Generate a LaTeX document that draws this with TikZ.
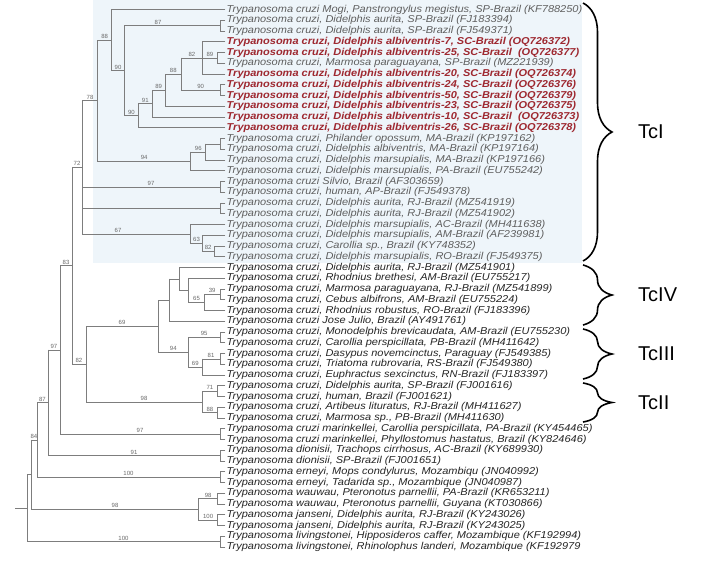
\documentclass[tikz,border=0pt]{standalone}
\usepackage{fontspec}
\setmainfont{Liberation Sans}
\newfontfamily\leaffont[FakeStretch=1.1]{Liberation Sans}
\usetikzlibrary{decorations.pathreplacing}
\definecolor{redtxt}{RGB}{158,40,48}
\definecolor{boxbg}{RGB}{238,245,250}
\definecolor{linegray}{RGB}{125,125,125}
\definecolor{graytxt}{RGB}{95,95,95}
\definecolor{bstxt}{RGB}{105,105,105}
\newcommand{\clade}[4]{\draw[br] (#1 |- #2) -- (#1 |- #3);\foreach \c in {#4}{\draw[br] (#1 |- \c) -- (\c);}}
\begin{document}
\begin{tikzpicture}[x=1pt,y=-1pt,
  br/.style={draw=linegray,line width=0.7pt,line cap=rect},
  leaf/.style={anchor=west,inner sep=1.5pt,font=\leaffont\fontsize{10}{11}\selectfont\itshape,text=black!85},
  leafg/.style={leaf,text=graytxt},
  leafr/.style={leaf,text=redtxt,font=\leaffont\fontsize{10}{11}\selectfont\bfseries\itshape},
  bs/.style={font=\fontsize{6}{7}\selectfont,text=bstxt,inner sep=0.3pt,anchor=south},
  bracestyle/.style={decorate,decoration={brace,amplitude=29pt},line width=1.6pt},
  cladelab/.style={anchor=west,font=\fontsize{20}{22}\selectfont,inner sep=0pt}
]
\fill[white] (0,0) rectangle (714,560);
\useasboundingbox (0,0) rectangle (714,560);
\fill[boxbg] (93,0) rectangle (582,263);

% leaves
\node[leafg] (l1) at (225,9.5) {Trypanosoma cruzi Mogi, Panstrongylus megistus, SP-Brazil (KF788250)};
\node[leafg] (l2) at (225,20.25) {Trypanosoma cruzi, Didelphis aurita, SP-Brazil (FJ183394)};
\node[leafg] (l3) at (225,31) {Trypanosoma cruzi, Didelphis aurita, SP-Brazil (FJ549371)};
\node[leafr] (l4) at (225,41.75) {Trypanosoma cruzi, Didelphis albiventris-7, SC-Brazil (OQ726372)};
\node[leafr] (l5) at (225,52.5) {Trypanosoma cruzi, Didelphis albiventris-25, SC-Brazil \ (OQ726377)};
\node[leafg] (l6) at (225,63.25) {Trypanosoma cruzi, Marmosa paraguayana, SP-Brazil (MZ221939)};
\node[leafr] (l7) at (225,74) {Trypanosoma cruzi, Didelphis albiventris-20, SC-Brazil (OQ726374)};
\node[leafr] (l8) at (225,84.75) {Trypanosoma cruzi, Didelphis albiventris-24, SC-Brazil (OQ726376)};
\node[leafr] (l9) at (225,95.5) {Trypanosoma cruzi, Didelphis albiventris-50, SC-Brazil (OQ726379)};
\node[leafr] (l10) at (225,106.25) {Trypanosoma cruzi, Didelphis albiventris-23, SC-Brazil (OQ726375)};
\node[leafr] (l11) at (225,117) {Trypanosoma cruzi, Didelphis albiventris-10, SC-Brazil \ (OQ726373)};
\node[leafr] (l12) at (225,127.75) {Trypanosoma cruzi, Didelphis albiventris-26, SC-Brazil (OQ726378)};
\node[leafg] (l13) at (225,138.5) {Trypanosoma cruzi, Philander opossum, MA-Brazil (KP197162)};
\node[leafg] (l14) at (225,149.25) {Trypanosoma cruzi, Didelphis albiventris, MA-Brazil (KP197164)};
\node[leafg] (l15) at (225,160) {Trypanosoma cruzi, Didelphis marsupialis, MA-Brazil (KP197166)};
\node[leafg] (l16) at (225,170.75) {Trypanosoma cruzi, Didelphis marsupialis, PA-Brazil (EU755242)};
\node[leafg] (l17) at (225,181.5) {Trypanosoma cruzi Silvio, Brazil (AF303659)};
\node[leafg] (l18) at (225,192.25) {Trypanosoma cruzi, human, AP-Brazil (FJ549378)};
\node[leafg] (l19) at (225,203) {Trypanosoma cruzi, Didelphis aurita, RJ-Brazil (MZ541919)};
\node[leafg] (l20) at (225,213.75) {Trypanosoma cruzi, Didelphis aurita, RJ-Brazil (MZ541902)};
\node[leafg] (l21) at (225,224.5) {Trypanosoma cruzi, Didelphis marsupialis, AC-Brazil (MH411638)};
\node[leafg] (l22) at (225,235.25) {Trypanosoma cruzi, Didelphis marsupialis, AM-Brazil (AF239981)};
\node[leafg] (l23) at (225,246) {Trypanosoma cruzi, Carollia sp., Brazil (KY748352)};
\node[leafg] (l24) at (225,256.75) {Trypanosoma cruzi, Didelphis marsupialis, RO-Brazil (FJ549375)};
\node[leaf] (l25) at (225,267.5) {Trypanosoma cruzi, Didelphis aurita, RJ-Brazil (MZ541901)};
\node[leaf] (l26) at (225,278.25) {Trypanosoma cruzi, Rhodnius brethesi, AM-Brazil (EU755217)};
\node[leaf] (l27) at (225,289) {Trypanosoma cruzi, Marmosa paraguayana, RJ-Brazil (MZ541899)};
\node[leaf] (l28) at (225,299.75) {Trypanosoma cruzi, Cebus albifrons, AM-Brazil (EU755224)};
\node[leaf] (l29) at (225,310.5) {Trypanosoma cruzi, Rhodnius robustus, RO-Brazil (FJ183396)};
\node[leaf] (l30) at (225,321.25) {Trypanosoma cruzi Jose Julio, Brazil (AY491761)};
\node[leaf] (l31) at (225,332) {Trypanosoma cruzi, Monodelphis brevicaudata, AM-Brazil (EU755230)};
\node[leaf] (l32) at (225,342.75) {Trypanosoma cruzi, Carollia perspicillata, PB-Brazil (MH411642)};
\node[leaf] (l33) at (225,353.5) {Trypanosoma cruzi, Dasypus novemcinctus, Paraguay (FJ549385)};
\node[leaf] (l34) at (225,364.25) {Trypanosoma cruzi, Triatoma rubrovaria, RS-Brazil (FJ549380)};
\node[leaf] (l35) at (225,375) {Trypanosoma cruzi, Euphractus sexcinctus, RN-Brazil (FJ183397)};
\node[leaf] (l36) at (225,385.75) {Trypanosoma cruzi, Didelphis aurita, SP-Brazil (FJ001616)};
\node[leaf] (l37) at (225,396.5) {Trypanosoma cruzi, human, Brazil (FJ001621)};
\node[leaf] (l38) at (225,407.25) {Trypanosoma cruzi, Artibeus lituratus, RJ-Brazil (MH411627)};
\node[leaf] (l39) at (225,418) {Trypanosoma cruzi, Marmosa sp., PB-Brazil (MH411630)};
\node[leaf] (l40) at (225,428.75) {Trypanosoma cruzi marinkellei, Carollia perspicillata, PA-Brazil (KY454465)};
\node[leaf] (l41) at (225,439.5) {Trypanosoma cruzi marinkellei, Phyllostomus hastatus, Brazil (KY824646)};
\node[leaf] (l42) at (225,450.25) {Trypanosoma dionisii, Trachops cirrhosus, AC-Brazil (KY689930)};
\node[leaf] (l43) at (225,461) {Trypanosoma dionisii, SP-Brazil (FJ001651)};
\node[leaf] (l44) at (225,471.75) {Trypanosoma erneyi, Mops condylurus, Mozambiqu (JN040992)};
\node[leaf] (l45) at (225,482.5) {Trypanosoma erneyi, Tadarida sp., Mozambique (JN040987)};
\node[leaf] (l46) at (225,493.25) {Trypanosoma wauwau, Pteronotus parnellii, PA-Brazil (KR653211)};
\node[leaf] (l47) at (225,504) {Trypanosoma wauwau, Pteronotus parnellii, Guyana (KT030866)};
\node[leaf] (l48) at (225,514.75) {Trypanosoma janseni, Didelphis aurita, RJ-Brazil (KY243026)};
\node[leaf] (l49) at (225,525.5) {Trypanosoma janseni, Didelphis aurita, RJ-Brazil (KY243025)};
\node[leaf] (l50) at (225,536.25) {Trypanosoma livingstonei, Hipposideros caffer, Mozambique (KF192994)};
\node[leaf] (l51) at (225,547) {Trypanosoma livingstonei, Rhinolophus landeri, Mozambique (KF192979};

% internal nodes
\coordinate (A87) at (220,25.625);
\coordinate (A89a) at (217.4,57.875);
\coordinate (A82) at (202.3,57.875);
\coordinate (A90c) at (220,90.125);
\coordinate (A88b) at (181.4,74);
\coordinate (A89b) at (165.1,90.125);
\coordinate (A91) at (152.3,103.56);
\coordinate (A90b) at (138.4,115.66);
\coordinate (A90a) at (124.4,70.64);
\coordinate (A88) at (111.6,40.07);
\coordinate (AP) at (220,143.875);
\coordinate (A96) at (205.8,151.94);
\coordinate (A94) at (190.7,161.34);
\coordinate (A78) at (97.7,100.71);
\coordinate (A97) at (220,186.875);
\coordinate (P1920) at (220,208.375);
\coordinate (A82b) at (214,251.375);
\coordinate (A63) at (202.3,243.31);
\coordinate (Aa) at (190.7,233.91);
\coordinate (N72) at (82,167.31);
\coordinate (N39) at (220,294.375);
\coordinate (N65) at (204.7,302.44);
\coordinate (NIV2) at (188.4,290.34);
\coordinate (NIV1) at (179.1,278.92);
\coordinate (NIV0) at (169.8,300.09);
\coordinate (N95) at (220,337.375);
\coordinate (N81) at (220,358.875);
\coordinate (N69b) at (202.3,366.94);
\coordinate (N94b) at (188.4,352.16);
\coordinate (N69) at (158.1,326.12);
\coordinate (N71) at (217.4,391.125);
\coordinate (N88c) at (217.4,412.625);
\coordinate (N98) at (202.3,401.875);
\coordinate (Mar) at (220,434.125);
\coordinate (Dio) at (220,455.625);
\coordinate (Ern) at (220,477.125);
\coordinate (Ww) at (217.4,498.625);
\coordinate (Jj) at (217.4,520.125);
\coordinate (WJ) at (198.8,509.375);
\coordinate (Liv) at (220,541.625);
\coordinate (X) at (86,364.0);
\coordinate (C1) at (72,265.66);
\coordinate (C2) at (60,349.89);
\coordinate (C3) at (48,402.76);
\coordinate (C4) at (37,439.94);
\coordinate (C5) at (31,474.66);
\coordinate (R) at (27,508.14);
\coordinate (R0) at (15,508.14);

% branches
\clade{A87}{l2}{l3}{l2,l3}
\clade{A89a}{l5}{l6}{l5,l6}
\clade{A82}{l4}{l7}{l4,A89a,l7}
\clade{A90c}{l8}{l9}{l8,l9}
\clade{A88b}{A82}{A90c}{A82,A90c}
\clade{A89b}{A88b}{l10}{A88b,l10}
\clade{A91}{A89b}{l11}{A89b,l11}
\clade{A90b}{A91}{l12}{A91,l12}
\clade{A90a}{A87}{A90b}{A87,A90b}
\clade{A88}{l1}{A90a}{l1,A90a}
\clade{AP}{l13}{l14}{l13,l14}
\clade{A96}{AP}{l15}{AP,l15}
\clade{A94}{A96}{l16}{A96,l16}
\clade{A78}{A88}{A94}{A88,A94}
\clade{A97}{l17}{l18}{l17,l18}
\clade{P1920}{l19}{l20}{l19,l20}
\clade{A82b}{l23}{l24}{l23,l24}
\clade{A63}{l22}{A82b}{l22,A82b}
\clade{Aa}{l21}{A63}{l21,A63}
\clade{N72}{A78}{Aa}{A78,A97,P1920,Aa}
\clade{N39}{l27}{l28}{l27,l28}
\clade{N65}{N39}{l29}{N39,l29}
\clade{NIV2}{l26}{N65}{l26,N65}
\clade{NIV1}{l25}{NIV2}{l25,NIV2}
\clade{NIV0}{NIV1}{l30}{NIV1,l30}
\clade{N95}{l31}{l32}{l31,l32}
\clade{N81}{l33}{l34}{l33,l34}
\clade{N69b}{N81}{l35}{N81,l35}
\clade{N94b}{N95}{N69b}{N95,N69b}
\clade{N69}{NIV0}{N94b}{NIV0,N94b}
\clade{N71}{l36}{l37}{l36,l37}
\clade{N88c}{l38}{l39}{l38,l39}
\clade{N98}{N71}{N88c}{N71,N88c}
\clade{Mar}{l40}{l41}{l40,l41}
\clade{Dio}{l42}{l43}{l42,l43}
\clade{Ern}{l44}{l45}{l44,l45}
\clade{Ww}{l46}{l47}{l46,l47}
\clade{Jj}{l48}{l49}{l48,l49}
\clade{WJ}{Ww}{Jj}{Ww,Jj}
\clade{Liv}{l50}{l51}{l50,l51}
\clade{X}{N69}{N98}{N69,N98}
\clade{C1}{N72}{X}{N72,X}
\clade{C2}{C1}{Mar}{C1,Mar}
\clade{C3}{C2}{Dio}{C2,Dio}
\clade{C4}{C3}{Ern}{C3,Ern}
\clade{C5}{C4}{WJ}{C4,WJ}
\clade{R}{C5}{Liv}{C5,Liv}
\draw[br] (R0) -- (R);

% bootstrap values
\node[bs] (s1) at (104.7,39) {88};
\node[bs] (s2) at (158,24.6) {87};
\node[bs] (s3) at (118,69.6) {90};
\node[bs] (s4) at (191.9,56.9) {82};
\node[bs] (s5) at (209.9,56.9) {89};
\node[bs] (s6) at (173.3,73) {88};
\node[bs] (s7) at (158.7,89.1) {89};
\node[bs] (s8) at (200.6,89.1) {90};
\node[bs] (s9) at (145.3,102.6) {91};
\node[bs] (s10) at (131.4,114.7) {90};
\node[bs] (s11) at (90,99.7) {78};
\node[bs] (s12) at (198.3,150.9) {96};
\node[bs] (s13) at (144.2,160.3) {94};
\node[bs] (s14) at (151,185.9) {97};
\node[bs] (s15) at (118,232.9) {67};
\node[bs] (s16) at (196.5,242.3) {63};
\node[bs] (s17) at (208.1,250.4) {82};
\node[bs] (s18) at (77,166.3) {72};
\node[bs] (s19) at (212.2,293.4) {39};
\node[bs] (s20) at (196.5,301.4) {65};
\node[bs] (s21) at (204.1,336.4) {95};
\node[bs] (s22) at (173.3,351.2) {94};
\node[bs] (s23) at (195.3,365.9) {69};
\node[bs] (s24) at (211,357.9) {81};
\node[bs] (s25) at (122,325.1) {69};
\node[bs] (s26) at (144,400.9) {98};
\node[bs] (s27) at (209.9,390.1) {71};
\node[bs] (s28) at (209.9,411.6) {88};
\node[bs] (s29) at (140,433.1) {97};
\node[bs] (s30) at (134,454.6) {91};
\node[bs] (s31) at (128.5,476.1) {100};
\node[bs] (s32) at (115,508.4) {98};
\node[bs] (s33) at (208.1,497.6) {98};
\node[bs] (s34) at (208.1,519.1) {100};
\node[bs] (s35) at (123.5,540.6) {100};
\node[bs] (s36) at (66,264.7) {83};
\node[bs] (s37) at (79,363) {82};
\node[bs] (s38) at (54,348.9) {97};
\node[bs] (s39) at (42.5,401.8) {87};
\node[bs] (s40) at (34,438.9) {84};

% braces and lineage labels
\coordinate (bIa) at (583,3);   \coordinate (bIb) at (583,261);
\coordinate (bIVa) at (583,265); \coordinate (bIVb) at (583,325);
\coordinate (bIIIa) at (583,329); \coordinate (bIIIb) at (583,379);
\coordinate (bIIa) at (583,383); \coordinate (bIIb) at (583,422);
\draw[bracestyle] (bIa) -- (bIb);
\draw[bracestyle] (bIVa) -- (bIVb);
\draw[bracestyle] (bIIIa) -- (bIIIb);
\draw[bracestyle] (bIIa) -- (bIIb);
\node[cladelab] (tI) at (638,132) {TcI};
\node[cladelab] (tIV) at (638,295) {TcIV};
\node[cladelab] (tIII) at (638,354) {TcIII};
\node[cladelab] (tII) at (638,402.5) {TcII};
\end{tikzpicture}
\end{document}
